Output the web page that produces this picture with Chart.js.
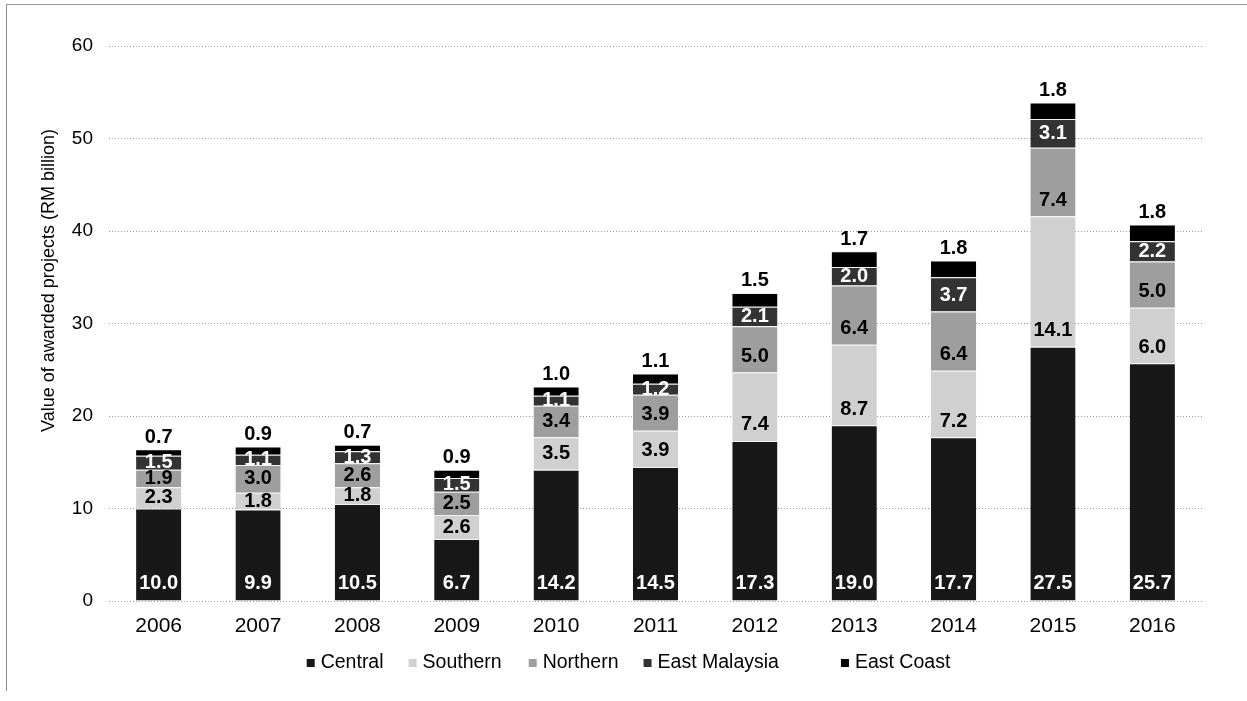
<!DOCTYPE html>
<html>
<head>
<meta charset="utf-8">
<script src="https://cdn.jsdelivr.net/npm/chart.js@4"></script>
<style>
  html, body { margin: 0; padding: 0; background: #fff; }
  #wrap { position: relative; width: 1247px; height: 701px; }
  #frame {
    position: absolute; left: 6px; top: 4px; right: 0; height: 686px;
    border-left: 1px solid #8a8a8a; border-top: 1px solid #9a9a9a;
    pointer-events: none;
  }
</style>
</head>
<body>
<div id="wrap">
  <canvas id="chart" width="1247" height="701"></canvas>
  <div id="frame"></div>
</div>
<script>
"use strict";

const years = ['2006', '2007', '2008', '2009', '2010', '2011', '2012', '2013', '2014', '2015', '2016'];

const central      = [10.0, 9.9, 10.5, 6.7, 14.2, 14.5, 17.3, 19.0, 17.7, 27.5, 25.7];
const southern     = [2.3, 1.8, 1.8, 2.6, 3.5, 3.9, 7.4, 8.7, 7.2, 14.1, 6.0];
const northern     = [1.9, 3.0, 2.6, 2.5, 3.4, 3.9, 5.0, 6.4, 6.4, 7.4, 5.0];
const eastMalaysia = [1.5, 1.1, 1.3, 1.5, 1.1, 1.2, 2.1, 2.0, 3.7, 3.1, 2.2];
const eastCoast    = [0.7, 0.9, 0.7, 0.9, 1.0, 1.1, 1.5, 1.7, 1.8, 1.8, 1.8];

const yTicks = [0, 10, 20, 30, 40, 50, 60];

const FONT = '"Liberation Sans", Arial, sans-serif';

const series = [
    { label: 'Central',       data: central,      fill: '#181818', text: '#ffffff' },
    { label: 'Southern',      data: southern,     fill: '#d0d0d0', text: '#000000' },
    { label: 'Northern',      data: northern,     fill: '#9e9e9e', text: '#000000' },
    { label: 'East Malaysia', data: eastMalaysia, fill: '#333333', text: '#ffffff' },
    { label: 'East Coast',    data: eastCoast,    fill: '#000000', text: '#000000' }
];

// value labels: central sits at the foot of the bar, east coast above the top,
// the rest centred but pulled down towards the segment base on tall segments
const segmentLabels = {
    id: 'segmentLabels',
    afterDatasetsDraw(chart) {
        const ctx = chart.ctx;
        const last = chart.data.datasets.length - 1;
        ctx.save();
        ctx.font = 'bold 20px ' + FONT;
        ctx.textAlign = 'center';
        ctx.textBaseline = 'middle';
        chart.data.datasets.forEach((ds, di) => {
            const meta = chart.getDatasetMeta(di);
            meta.data.forEach((bar, i) => {
                const top = bar.y, base = bar.base;
                let y;
                if (di === 0) {
                    y = base - 17;
                } else if (di === last) {
                    y = top - 12;
                } else {
                    y = Math.max((top + base) / 2, base - 16);
                }
                ctx.fillStyle = series[di].text;
                ctx.fillText(ds.data[i].toFixed(1), bar.x, y);
            });
        });
        ctx.restore();
    }
};

// rotated y axis title, drawn a little above the middle of the plot
const yTitle = {
    id: 'yTitle',
    afterDraw(chart) {
        const ctx = chart.ctx;
        const area = chart.chartArea;
        ctx.save();
        ctx.translate(area.left - 60, (area.top + area.bottom) / 2 - 43);
        ctx.rotate(-Math.PI / 2);
        ctx.font = '18px ' + FONT;
        ctx.fillStyle = '#000';
        ctx.textAlign = 'center';
        ctx.textBaseline = 'middle';
        ctx.fillText('Value of awarded projects (RM billion)', 0, 0);
        ctx.restore();
    }
};

// legend row under the axis: small square then name, gaps before each next entry
const legendGaps = [25, 27, 25, 62];
const bottomLegend = {
    id: 'bottomLegend',
    afterDraw(chart) {
        const ctx = chart.ctx;
        const box = 8, textGap = 6;
        const y = chart.chartArea.bottom + 62;
        ctx.save();
        ctx.font = '19.5px ' + FONT;
        ctx.textBaseline = 'middle';
        const widths = chart.data.datasets.map(ds => box + textGap + ctx.measureText(ds.label).width);
        const total = widths.reduce((a, b) => a + b, 0) + legendGaps.reduce((a, b) => a + b, 0);
        let x = chart.width / 2 + 5 - total / 2;
        chart.data.datasets.forEach((ds, i) => {
            ctx.fillStyle = ds.backgroundColor;
            ctx.fillRect(x, y - box / 2, box, box);
            ctx.fillStyle = '#000';
            ctx.fillText(ds.label, x + box + textGap, y);
            x += widths[i] + (legendGaps[i] || 0);
        });
        ctx.restore();
    }
};

new Chart(document.getElementById('chart'), {
    type: 'bar',
    data: {
        labels: years,
        datasets: series.map(s => ({
            label: s.label,
            data: s.data,
            backgroundColor: s.fill,
            borderColor: '#f2f2f2',
            borderWidth: { top: 1, left: 0, right: 0, bottom: 0 },
            borderSkipped: false,
            barPercentage: 0.455,
            categoryPercentage: 1.0
        }))
    },
    options: {
        responsive: false,
        animation: false,
        layout: {
            padding: { top: 46, right: 45, bottom: 60, left: 0 }
        },
        plugins: {
            legend: { display: false },
            tooltip: { enabled: false }
        },
        scales: {
            x: {
                stacked: true,
                afterFit(scale) { scale.height = 40; },
                grid: { display: false },
                border: { display: false },
                ticks: {
                    color: '#000',
                    padding: 5,
                    font: { family: FONT, size: 21 }
                }
            },
            y: {
                stacked: true,
                min: 0,
                max: 60,
                afterFit(scale) { scale.width = 109; },
                afterBuildTicks(scale) { scale.ticks = yTicks.map(v => ({ value: v })); },
                grid: {
                    color: '#9a9a9a',
                    lineWidth: 1,
                    drawTicks: false
                },
                border: { display: false, dash: [1, 2] },
                ticks: {
                    color: '#000',
                    padding: 16,
                    font: { family: FONT, size: 19 }
                }
            }
        }
    },
    plugins: [segmentLabels, yTitle, bottomLegend]
});
</script>
</body>
</html>
